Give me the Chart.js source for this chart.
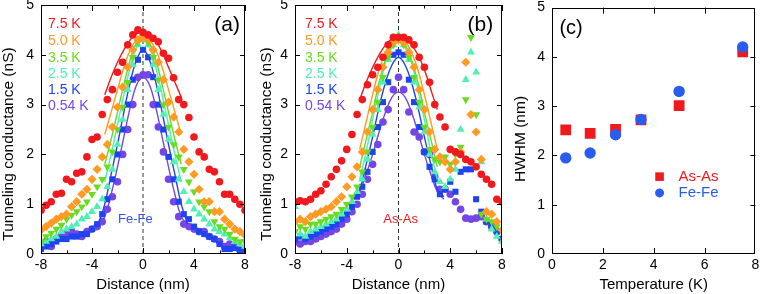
<!DOCTYPE html>
<html lang="en">
<head>
<meta charset="UTF-8">
<title>Tunneling conductance</title>
<script src="https://cdn.jsdelivr.net/npm/chart.js@4.4.1/dist/chart.umd.min.js"></script>
<style>
  body { margin: 0; background: #fff; }
  #wrap { position: relative; width: 763px; height: 294px; }
  canvas { position: absolute; top: 0; }
</style>
</head>
<body>
<div id="wrap">
  <canvas id="ga" width="250" height="294" style="left:0"></canvas>
  <canvas id="gb" width="257" height="294" style="left:250px"></canvas>
  <canvas id="gc" width="256" height="294" style="left:507px"></canvas>
</div>
<script>
// distance grid (nm) shared by all curves of (a) and (b)
const dist = [-8, -7.6, -7.2, -6.8, -6.4, -6, -5.6, -5.2, -4.8, -4.4, -4, -3.6, -3.2, -2.8, -2.4, -2, -1.6, -1.2, -0.8, -0.4,
  0, 0.4, 0.8, 1.2, 1.6, 2, 2.4, 2.8, 3.2, 3.6, 4, 4.4, 4.8, 5.2, 5.6, 6, 6.4, 6.8, 7.2, 7.6, 8];
const temps = ['7.5 K', '5.0 K', '3.5 K', '2.5 K', '1.5 K', '0.54 K'];

// (a) Fe-Fe
const feRed = [0.88, 0.98, 1.05, 1.2, 1.22, 1.5, 1.45, 1.62, 1.65, 1.95, 2.3, 2.35, 2.8, 3.1, 3.3, 3.65, 3.85, 4.2, 4.4, 4.5,
  4.45, 4.4, 4.33, 4.26, 4.03, 3.93, 3.54, 3.1, 3.0, 2.74, 2.35, 2.05, 1.95, 1.7, 1.65, 1.45, 1.2, 1.2, 1.1, 1.0, 0.88];
const feOrange = [0.48, 0.55, 0.62, 0.7, 0.75, 0.8, 0.95, 1.05, 1.2, 1.3, 1.5, 1.7, 1.95, 2.2, 2.55, 2.95, 3.35, 3.75, 4.1, 4.3,
  4.35, 4.3, 4.1, 3.85, 3.5, 3.05, 2.75, 2.45, 2.1, 1.85, 1.6, 1.3, 1.05, 1.05, 0.85, 0.85, 0.7, 0.6, 0.5, 0.45, 0.38];
const feGreen = [0.25, 0.35, 0.42, 0.5, 0.58, 0.7, 0.78, 0.85, 0.95, 1.05, 1.2, 1.35, 1.5, 1.75, 2.05, 2.5, 2.95, 3.45, 3.95, 4.25,
  4.35, 4.25, 3.95, 3.5, 3.0, 2.55, 2.2, 1.95, 1.7, 1.45, 1.25, 1.05, 0.95, 0.85, 0.65, 0.55, 0.5, 0.4, 0.3, 0.25, 0.25];
const feCyan = [0.2, 0.25, 0.3, 0.35, 0.45, 0.5, 0.55, 0.6, 0.7, 0.75, 0.85, 0.95, 1.1, 1.35, 1.7, 2.2, 2.7, 3.3, 3.8, 4.2,
  4.3, 4.2, 3.8, 3.3, 2.8, 2.3, 1.85, 1.5, 1.25, 1.05, 0.9, 0.8, 0.7, 0.6, 0.5, 0.45, 0.4, 0.32, 0.25, 0.2, 0.15];
const feBlue = [0.1, 0.15, 0.2, 0.25, 0.3, 0.3, 0.35, 0.35, 0.4, 0.4, 0.5, 0.6, 0.8, 1.1, 1.5, 2.0, 2.5, 3.0, 3.5, 3.9,
  4.1, 3.95, 3.55, 3.0, 2.5, 1.95, 1.5, 1.05, 0.8, 0.7, 0.55, 0.45, 0.4, 0.35, 0.3, 0.2, 0.1, 0.1, 0.12, 0.08, 0.05];
const fePurple = [0.2, 0.25, 0.15, 0.3, 0.35, 0.4, 0.45, 0.4, 0.35, 0.45, 0.5, 0.55, 0.65, 0.9, 1.15, 1.45, 2.0, 2.5, 3.0, 3.55,
  3.6, 3.6, 3.0, 2.55, 2.05, 1.5, 1.05, 0.75, 0.6, 0.55, 0.5, 0.45, 0.45, 0.35, 0.3, 0.25, 0.15, 0.2, 0.15, 0.08, 0.05];

// (b) As-As
const asRed = [1.05, 1.07, 1.05, 1.1, 1.2, 1.27, 1.4, 1.55, 1.7, 1.87, 2.1, 2.4, 2.8, 3.1, 3.4, 3.6, 3.75, 3.95, 4.2, 4.35,
  4.35, 4.35, 4.3, 4.2, 3.95, 3.75, 3.45, 3.0, 2.75, 2.55, 2.1, 2.05, 2.0, 1.9, 1.85, 1.75, 1.6, 1.5, 1.4, 1.1, 1.05];
const asOrange = [0.65, 0.7, 0.65, 0.75, 0.8, 0.85, 0.9, 0.95, 1.05, 1.15, 1.35, 1.55, 1.75, 2.05, 2.45, 2.9, 3.3, 3.75, 4.05, 4.25,
  4.3, 4.25, 4.05, 3.75, 3.3, 2.9, 2.45, 2.1, 1.95, 1.85, 1.7, 1.85, 2.05, 3.85, 2.8, 2.45, 1.9, 0.85, 0.8, 0.65, 0.48];
const asGreen = [0.45, 0.55, 0.5, 0.6, 0.6, 0.65, 0.7, 0.75, 0.8, 0.9, 1.0, 1.15, 1.35, 1.65, 2.05, 2.55, 3.05, 3.55, 3.95, 4.2,
  4.3, 4.2, 3.95, 3.55, 3.05, 2.55, 2.1, 1.9, 1.85, 1.95, 1.8, 2.0, 2.15, 3.1, 4.35, 2.8, 0.8, 0.7, 0.65, 0.55, 0.45];
const asCyan = [0.95, 0.4, 0.35, 0.45, 0.5, 0.55, 0.6, 0.65, 0.7, 0.8, 0.9, 1.05, 1.25, 1.5, 1.9, 2.4, 2.9, 3.45, 3.9, 4.2,
  4.4, 4.2, 3.9, 3.45, 2.95, 2.45, 2.0, 1.65, 1.45, 1.35, 1.5, 1.7, 2.5, 3.5, 4.05, 3.65, 1.85, 0.7, 0.5, 0.35, 0.25];
const asBlue = [0.3, 0.35, 0.3, 0.35, 0.4, 0.45, 0.5, 0.55, 0.6, 0.7, 0.8, 0.95, 1.15, 1.35, 1.65, 2.05, 2.55, 3.05, 3.45, 4.0,
  4.05, 4.0, 3.5, 3.05, 2.55, 2.05, 1.75, 1.5, 1.2, 1.3, 1.45, 1.25, 1.65, 1.7, 1.7, 1.1, 0.85, 0.65, 0.55, 0.45, 0.3];
const asPurple = [0.25, 0.2, 0.25, 0.25, 0.3, 0.35, 0.4, 0.45, 0.5, 0.6, 0.7, 0.85, 1.0, 1.2, 1.5, 1.8, 2.2, 2.65, 2.9, 3.3,
  3.55, 3.3, 2.85, 2.45, 2.35, 2.05, 2.0, 1.55, 1.3, 1.3, 1.2, 1.05, 0.9, 0.72, 0.7, 0.72, 0.75, 0.65, 0.55, 0.45, 0.3];

// fitted curves, read off at these distances (null = no line there)
const fitDist = [-3.5, -3, -2.5, -2, -1.5, -1, -0.5, 0, 0.5, 1, 1.5, 2, 2.5, 3, 3.5];
const feFitRed = [null, 3.2, 3.55, 3.85, 4.1, 4.3, 4.42, 4.45, 4.4, 4.28, 4.05, 3.75, 3.45, 3.15, null];
const feFitOrange = [null, 2.4, 2.85, 3.3, 3.75, 4.1, 4.3, 4.35, 4.3, 4.1, 3.75, 3.3, 2.85, 2.4, null];
const feFitGreen = [null, 1.8, 2.3, 2.85, 3.4, 3.9, 4.25, 4.35, 4.25, 3.9, 3.4, 2.85, 2.3, 1.8, null];
const feFitCyan = [null, 1.45, 2.0, 2.6, 3.2, 3.75, 4.15, 4.3, 4.15, 3.75, 3.2, 2.6, 2.0, 1.45, null];
const feFitBlue = [0.6, 1.0, 1.6, 2.2, 2.85, 3.45, 3.9, 4.1, 3.9, 3.45, 2.85, 2.2, 1.6, 1.0, 0.6];
const feFitPurple = [0.55, 0.75, 1.2, 1.75, 2.35, 2.95, 3.4, 3.55, 3.4, 2.95, 2.35, 1.75, 1.2, 0.75, 0.6];
const asFitRed = [null, 3.1, 3.45, 3.75, 4.0, 4.2, 4.32, 4.35, 4.32, 4.2, 4.0, 3.7, 3.3, 2.9, null];
const asFitOrange = [null, 2.1, 2.65, 3.2, 3.7, 4.05, 4.27, 4.32, 4.27, 4.05, 3.7, 3.2, 2.65, 2.1, null];
const asFitGreen = [null, 1.75, 2.3, 2.85, 3.45, 3.9, 4.2, 4.3, 4.2, 3.9, 3.45, 2.85, 2.3, 1.75, null];
const asFitCyan = [null, 1.5, 2.05, 2.7, 3.3, 3.85, 4.15, 4.28, 4.15, 3.85, 3.3, 2.7, 2.05, 1.5, null];
const asFitBlue = [1.15, 1.3, 1.8, 2.35, 2.95, 3.45, 3.8, 3.95, 3.8, 3.45, 2.95, 2.35, 1.8, 1.3, 1.15];
const asFitPurple = [1.1, 1.25, 1.6, 2.0, 2.45, 2.85, 3.15, 3.25, 3.15, 2.85, 2.45, 2.0, 1.6, 1.25, 1.1];

// (c) HWHM vs temperature
const tempK = [0.54, 1.5, 2.5, 3.5, 5.0, 7.5];
const hwhmAs = [2.52, 2.45, 2.53, 2.72, 3.01, 4.1];
const hwhmFe = [1.95, 2.05, 2.42, 2.73, 3.3, 4.2];

const colors = ['#f01a1e', '#ff9a22', '#66dd1e', '#4ef0b4', '#1e44f0', '#7446e6'];
const styles = ['circle', 'rectRot', 'triangle', 'triangle', 'rect', 'circle'];
const rots = [0, 0, 180, 0, 0, 0];
const radii = [3.8, 4.6, 4.6, 4.6, 4.3, 3.8];
const FONT = "'Liberation Sans', Arial, Helvetica, sans-serif";

Chart.defaults.font.family = FONT;
Chart.defaults.color = '#000';

function pairs(xs, ys) {
  const out = [];
  xs.forEach((x, i) => { if (ys[i] !== null) out.push({ x: x, y: ys[i] }); });
  return out;
}

// frame with inward ticks on all four sides, plus the rotated y title
const framePlugin = {
  id: 'frame',
  afterDatasetsDraw(chart, args, o) {
    const { ctx, chartArea: a, scales: { x, y } } = chart;
    ctx.save();
    ctx.strokeStyle = '#000';
    ctx.lineWidth = 1;
    ctx.strokeRect(Math.round(a.left) + 0.5, Math.round(a.top) + 0.5,
      Math.round(a.right - a.left) - 1, Math.round(a.bottom - a.top) - 1);
    ctx.beginPath();
    o.xTicks.forEach(t => {
      const px = Math.round(x.getPixelForValue(t.v)) + 0.5;
      ctx.moveTo(px, a.bottom); ctx.lineTo(px, a.bottom - t.len);
      ctx.moveTo(px, a.top); ctx.lineTo(px, a.top + t.len);
    });
    o.yTicks.forEach(v => {
      const py = Math.round(y.getPixelForValue(v)) + 0.5;
      ctx.moveTo(a.left, py); ctx.lineTo(a.left + 5, py);
      ctx.moveTo(a.right, py); ctx.lineTo(a.right - 5, py);
    });
    ctx.stroke();
    // y title
    const t = o.yTitle;
    ctx.translate(t.bx, t.cy);
    ctx.rotate(-Math.PI / 2);
    ctx.font = t.size + 'px ' + FONT;
    ctx.fillStyle = '#000';
    ctx.textAlign = 'center';
    ctx.textBaseline = 'alphabetic';
    ctx.fillText(t.text, 0, 0);
    ctx.restore();
  }
};

// labels placed in data units
const textPlugin = {
  id: 'labels',
  afterDatasetsDraw(chart, args, o) {
    const { ctx, scales: { x, y } } = chart;
    ctx.save();
    o.items.forEach(t => {
      ctx.font = t.size + 'px ' + FONT;
      ctx.fillStyle = t.color;
      ctx.textAlign = t.align || 'left';
      ctx.textBaseline = 'middle';
      ctx.fillText(t.text, x.getPixelForValue(t.x), y.getPixelForValue(t.y));
    });
    (o.marks || []).forEach(m => {
      ctx.fillStyle = m.color;
      const px = x.getPixelForValue(m.x), py = y.getPixelForValue(m.y);
      ctx.beginPath();
      if (m.shape === 'rect') ctx.rect(px - m.r, py - m.r, 2 * m.r, 2 * m.r);
      else ctx.arc(px, py, m.r, 0, Math.PI * 2);
      ctx.fill();
    });
    ctx.restore();
  }
};

function fixAxis(size, horizontal) {
  return function (s) {
    if (horizontal) s.height = size; else s.width = size;
    s.paddingTop = 0; s.paddingBottom = 0; s.paddingLeft = 0; s.paddingRight = 0;
  };
}

function axes(xMin, xMax, xStep, xTitle, yWidth) {
  return {
    x: {
      type: 'linear', min: xMin, max: xMax,
      grid: { display: false, drawTicks: false }, border: { display: false },
      ticks: { stepSize: xStep, padding: 3, autoSkip: false, maxRotation: 0, font: { size: 14 }, color: '#000' },
      title: { display: true, text: xTitle, font: { size: 15 }, color: '#000', padding: { top: 0, bottom: 0 } },
      afterFit: fixAxis(40, true)
    },
    y: {
      type: 'linear', min: 0, max: 5,
      grid: { display: false, drawTicks: false }, border: { display: false },
      ticks: { stepSize: 1, padding: 7, font: { size: 14 }, color: '#000' },
      title: { display: false },
      afterFit: fixAxis(yWidth, false)
    }
  };
}

function profileDatasets(series, fits) {
  const ds = [];
  series.forEach((ys, i) => {
    ds.push({
      data: pairs(dist, ys), showLine: false,
      backgroundColor: colors[i], borderWidth: 0,
      pointStyle: styles[i], rotation: rots[i], pointRadius: radii[i]
    });
    ds.push({
      data: pairs(fitDist, fits[i]), showLine: true, tension: 0.4,
      borderColor: colors[i], borderWidth: 1.4, pointRadius: 0, fill: false
    });
  });
  ds.push({
    data: [{ x: 0, y: 0 }, { x: 0, y: 5 }], showLine: true,
    borderColor: '#333', borderWidth: 1, borderDash: [4, 3], pointRadius: 0
  });
  return ds;
}

const xTicksDist = [
  { v: -8, len: 6 }, { v: -6, len: 3.5 }, { v: -4, len: 6 }, { v: -2, len: 3.5 }, { v: 0, len: 6 },
  { v: 2, len: 3.5 }, { v: 4, len: 6 }, { v: 6, len: 3.5 }, { v: 8, len: 6 }];
const yTicks = [1, 2, 3, 4];
const tempY = [4.62, 4.27, 3.93, 3.61, 3.29, 2.96];

function tempLabels(x0) {
  return temps.map((t, i) => ({ text: t, x: x0, y: tempY[i], color: colors[i], size: 14 }));
}

const common = { responsive: false, animation: false, events: [] };

new Chart(document.getElementById('ga'), {
  type: 'scatter',
  data: { datasets: profileDatasets([feRed, feOrange, feGreen, feCyan, feBlue, fePurple],
    [feFitRed, feFitOrange, feFitGreen, feFitCyan, feFitBlue, feFitPurple]) },
  options: Object.assign({}, common, {
    layout: { padding: { top: 5, right: 5, left: 0, bottom: 0 } },
    scales: axes(-8, 8, 4, 'Distance (nm)', 41),
    plugins: {
      legend: { display: false }, tooltip: { enabled: false },
      frame: { xTicks: xTicksDist, yTicks: yTicks,
        yTitle: { text: 'Tunneling conductance (nS)', bx: 13, cy: 144, size: 15.5 } },
      labels: { items: tempLabels(-7.45).concat([
        { text: '(a)', x: 6.6, y: 4.6, color: '#000', size: 21, align: 'center' },
        { text: 'Fe-Fe', x: -0.6, y: 0.69, color: '#3355ee', size: 13, align: 'center' }
      ]) }
    }
  }),
  plugins: [framePlugin, textPlugin]
});

new Chart(document.getElementById('gb'), {
  type: 'scatter',
  data: { datasets: profileDatasets([asRed, asOrange, asGreen, asCyan, asBlue, asPurple],
    [asFitRed, asFitOrange, asFitGreen, asFitCyan, asFitBlue, asFitPurple]) },
  options: Object.assign({}, common, {
    layout: { padding: { top: 5, right: 5, left: 0, bottom: 0 } },
    scales: axes(-8, 8, 4, 'Distance (nm)', 45),
    plugins: {
      legend: { display: false }, tooltip: { enabled: false },
      frame: { xTicks: xTicksDist, yTicks: yTicks,
        yTitle: { text: 'Tunneling conductance (nS)', bx: 21, cy: 144, size: 15.5 } },
      labels: { items: tempLabels(-7.23).concat([
        { text: '(b)', x: 6.33, y: 4.6, color: '#000', size: 21, align: 'center' },
        { text: 'As-As', x: 0.17, y: 0.69, color: '#f01a1e', size: 13, align: 'center' }
      ]) }
    }
  }),
  plugins: [framePlugin, textPlugin]
});

new Chart(document.getElementById('gc'), {
  type: 'scatter',
  data: {
    datasets: [
      { data: pairs(tempK, hwhmFe), backgroundColor: '#2a5cf0', borderWidth: 0, pointStyle: 'circle', pointRadius: 5.7 },
      { data: pairs(tempK, hwhmAs), backgroundColor: '#f01a1e', borderWidth: 0, pointStyle: 'rect', pointRadius: 7.6 }
    ]
  },
  options: Object.assign({}, common, {
    layout: { padding: { top: 5, right: 5, left: 0, bottom: 0 } },
    scales: axes(0, 8, 2, 'Temperature (K)', 45),
    plugins: {
      legend: { display: false }, tooltip: { enabled: false },
      frame: { xTicks: [{ v: 2, len: 6 }, { v: 4, len: 6 }, { v: 6, len: 6 }], yTicks: yTicks,
        yTitle: { text: 'HWHM (nm)', bx: 18, cy: 139, size: 15.5 } },
      labels: {
        items: [
          { text: '(c)', x: 0.75, y: 4.58, color: '#000', size: 20, align: 'center' },
          { text: 'As-As', x: 4.98, y: 1.57, color: '#f01a1e', size: 15 },
          { text: 'Fe-Fe', x: 4.98, y: 1.24, color: '#2a5cf0', size: 15 }
        ],
        marks: [
          { shape: 'rect', x: 4.23, y: 1.57, r: 4.3, color: '#f01a1e' },
          { shape: 'circle', x: 4.23, y: 1.24, r: 4.5, color: '#2a5cf0' }
        ]
      }
    }
  }),
  plugins: [framePlugin, textPlugin]
});
</script>
</body>
</html>
